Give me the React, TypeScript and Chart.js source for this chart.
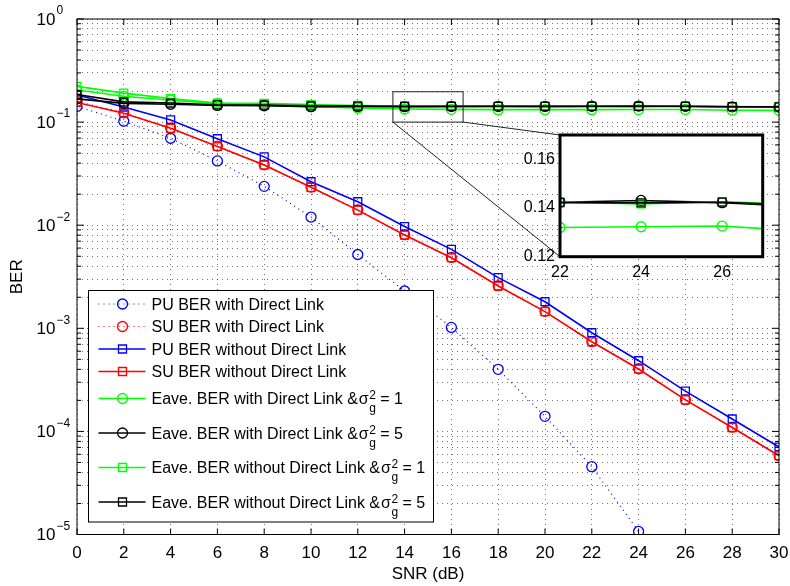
import React, { useEffect, useRef } from 'react';
import { Chart, registerables } from 'chart.js';

Chart.register(...registerables);

const FONT = '"Liberation Sans", Arial, Helvetica, sans-serif';

// ---------- data ----------
const SNR = [0, 2, 4, 6, 8, 10, 12, 14, 16, 18, 20, 22, 24, 26, 28, 30];
const PU_DL = [0.142, 0.102, 0.0697, 0.042, 0.0238, 0.012, 0.0052, 0.0023, 0.00102, 0.0004, 0.00014, 4.55e-5, 1.07e-5];
const SU_DL = [0.159, 0.123, 0.088, 0.0585, 0.0385, 0.0234, 0.0141, 0.0081, 0.00487, 0.00259, 0.00146, 0.000745, 0.000405, 0.000203, 0.00011, 5.85e-5];
const PU_NODL = [0.183, 0.14, 0.105, 0.069, 0.046, 0.0264, 0.0169, 0.0097, 0.00583, 0.0031, 0.00181, 0.000906, 0.000485, 0.000246, 0.000132, 7.06e-5];
const SU_NODL = [0.155, 0.122, 0.087, 0.058, 0.0384, 0.0233, 0.014, 0.00803, 0.00484, 0.00257, 0.00145, 0.00074, 0.000403, 0.000202, 0.000109, 5.8e-5];
const EAVE_DL_1 = [0.205, 0.178, 0.163, 0.152, 0.146, 0.141, 0.137, 0.134, 0.133, 0.132, 0.132, 0.132, 0.1323, 0.1326, 0.1305, 0.13];
const EAVE_DL_5 = [0.168, 0.152, 0.149, 0.145, 0.144, 0.141, 0.142, 0.141, 0.142, 0.142, 0.142, 0.1424, 0.1431, 0.1422, 0.1405, 0.14];
const EAVE_NODL_1 = [0.222, 0.191, 0.169, 0.153, 0.152, 0.148, 0.145, 0.143, 0.142, 0.142, 0.142, 0.1425, 0.1417, 0.1426, 0.1414, 0.141];
const EAVE_NODL_5 = [0.185, 0.157, 0.153, 0.147, 0.146, 0.144, 0.143, 0.142, 0.142, 0.1425, 0.142, 0.1422, 0.1421, 0.1424, 0.141, 0.1405];

const X_TICKS = [0, 2, 4, 6, 8, 10, 12, 14, 16, 18, 20, 22, 24, 26, 28, 30];
const Y_DECADES = [0, -1, -2, -3, -4, -5];
const INSET_X_TICKS = [22, 24, 26];
const INSET_Y_TICKS = [0.12, 0.14, 0.16];
const INSET_X_RANGE = [22, 27];
const INSET_Y_RANGE = [0.12, 0.17];
const ZOOM_BOX_X = [13.5, 16.5];
const ZOOM_BOX_Y = [0.1, 0.197];

const X_TITLE = 'SNR (dB)';
const Y_TITLE = 'BER';

type Series = {
  label: string;
  sigma?: string; // suffix after sigma
  data: number[];
  color: string;
  marker: 'circle' | 'rect';
  dotted: boolean;
};

const SERIES: Series[] = [
  { label: 'PU BER with Direct Link', data: PU_DL, color: '#0000ff', marker: 'circle', dotted: true },
  { label: 'SU BER with Direct Link', data: SU_DL, color: '#ff0000', marker: 'circle', dotted: true },
  { label: 'PU BER without Direct Link', data: PU_NODL, color: '#0000ff', marker: 'rect', dotted: false },
  { label: 'SU BER without Direct Link', data: SU_NODL, color: '#ff0000', marker: 'rect', dotted: false },
  { label: 'Eave. BER with Direct Link &', sigma: ' = 1', data: EAVE_DL_1, color: '#00ff00', marker: 'circle', dotted: false },
  { label: 'Eave. BER with Direct Link &', sigma: ' = 5', data: EAVE_DL_5, color: '#000000', marker: 'circle', dotted: false },
  { label: 'Eave. BER without Direct Link &', sigma: ' = 1', data: EAVE_NODL_1, color: '#00ff00', marker: 'rect', dotted: false },
  { label: 'Eave. BER without Direct Link &', sigma: ' = 5', data: EAVE_NODL_5, color: '#000000', marker: 'rect', dotted: false },
];

// ---------- layout (not data) ----------
const W = 790;
const H = 586;
const INSET_POS = { left: 515, top: 120, width: 260, height: 165 };
const GRID_COLOR = 'rgba(0,0,0,0.55)';
const GRID_DASH = [1, 4];

function toDataset(s: Series, i: number, n: number) {
  return {
    label: s.label,
    data: s.data.map((y, k) => ({ x: SNR[k], y })),
    borderColor: s.color,
    backgroundColor: 'rgba(0,0,0,0)',
    borderWidth: s.dotted ? 1.2 : 1.6,
    borderDash: s.dotted ? [1, 4] : [],
    pointStyle: s.marker,
    pointRadius: s.marker === 'rect' ? 5.6 : 5,
    pointBorderWidth: 1.3,
    pointBorderColor: s.color,
    pointBackgroundColor: 'rgba(0,0,0,0)',
    tension: 0,
    order: n - i,
  };
}

function drawMarker(ctx: CanvasRenderingContext2D, marker: string, x: number, y: number) {
  ctx.beginPath();
  if (marker === 'circle') {
    ctx.arc(x, y, 5, 0, Math.PI * 2);
  } else {
    ctx.rect(x - 4, y - 4, 8, 8);
  }
  ctx.stroke();
}

export default function App() {
  const mainRef = useRef<HTMLCanvasElement | null>(null);
  const insetRef = useRef<HTMLCanvasElement | null>(null);

  useEffect(() => {
    document.body.style.margin = '0';
    Chart.defaults.font.family = FONT;
    if (!mainRef.current || !insetRef.current) return;

    const insetSeries = SERIES.slice(4);

    const insetPlugin = {
      id: 'insetDecor',
      beforeDraw(chart: any) {
        const { ctx, chartArea: a } = chart;
        ctx.save();
        ctx.fillStyle = '#ffffff';
        ctx.fillRect(a.left, a.top, a.right - a.left, a.bottom - a.top);
        ctx.restore();
      },
      afterDraw(chart: any) {
        const { ctx, chartArea: a } = chart;
        ctx.save();
        ctx.strokeStyle = '#000';
        ctx.lineWidth = 3;
        ctx.strokeRect(a.left, a.top, a.right - a.left, a.bottom - a.top);
        ctx.restore();
      },
    };

    const noPad = (s: any) => {
      s.paddingLeft = 0;
      s.paddingRight = 0;
      s.paddingTop = 0;
      s.paddingBottom = 0;
    };

    const inset = new Chart(insetRef.current, {
      type: 'line',
      data: { datasets: insetSeries.map((s, i) => toDataset(s, i, insetSeries.length)) as any },
      options: {
        animation: false,
        responsive: false,
        maintainAspectRatio: false,
        layout: { padding: { top: 15, right: 12.3, left: 0, bottom: 0 } },
        scales: {
          x: {
            type: 'linear',
            min: INSET_X_RANGE[0],
            max: INSET_X_RANGE[1],
            afterBuildTicks: (s: any) => { s.ticks = INSET_X_TICKS.map((v) => ({ value: v })); },
            afterFit: (s: any) => { s.height = 28.3; noPad(s); },
            grid: { display: false, drawTicks: false },
            border: { display: false },
            ticks: { color: '#000', font: { size: 16, family: FONT }, padding: 6, maxRotation: 0, autoSkip: false },
          },
          y: {
            type: 'linear',
            min: INSET_Y_RANGE[0],
            max: INSET_Y_RANGE[1],
            afterBuildTicks: (s: any) => { s.ticks = INSET_Y_TICKS.map((v) => ({ value: v })); },
            afterFit: (s: any) => { s.width = 45; noPad(s); },
            grid: { display: false, drawTicks: false },
            border: { display: false },
            ticks: {
              color: '#000',
              font: { size: 16, family: FONT },
              padding: 5,
              autoSkip: false,
              callback: (v: any) => Number(v).toFixed(2),
            },
          },
        },
        plugins: { legend: { display: false }, tooltip: { enabled: false } },
      } as any,
      plugins: [insetPlugin],
    });

    const mainPlugin = {
      id: 'mainDecor',
      afterDraw(chart: any) {
        const { ctx, chartArea: a, scales } = chart;
        const xs = scales.x;
        const ys = scales.y;
        ctx.save();
        ctx.setLineDash([]);
        ctx.strokeStyle = '#000';
        ctx.lineWidth = 1;

        const seg = (x1: number, y1: number, x2: number, y2: number) => {
          ctx.beginPath();
          ctx.moveTo(x1, y1);
          ctx.lineTo(x2, y2);
          ctx.stroke();
        };

        // box
        ctx.strokeRect(a.left, a.top, a.right - a.left, a.bottom - a.top);

        // inward ticks on x
        X_TICKS.forEach((v) => {
          const px = xs.getPixelForValue(v);
          seg(px, a.bottom, px, a.bottom - 6);
          seg(px, a.top, px, a.top + 6);
        });
        // inward ticks on y (major + minor)
        Y_DECADES.forEach((e) => {
          for (let k = 1; k <= 9; k++) {
            if (e === 0 && k > 1) continue;
            const v = k * Math.pow(10, e);
            const py = ys.getPixelForValue(v);
            const len = k === 1 ? 7 : 4;
            seg(a.left, py, a.left + len, py);
            seg(a.right, py, a.right - len, py);
          }
        });

        // y tick labels with superscripts
        ctx.fillStyle = '#000';
        Y_DECADES.forEach((e) => {
          const py = ys.getPixelForValue(Math.pow(10, e));
          ctx.font = `17px ${FONT}`;
          ctx.textAlign = 'right';
          ctx.textBaseline = 'middle';
          ctx.fillText('10', a.left - 21.5, py + 1);
          ctx.font = `12px ${FONT}`;
          ctx.textAlign = 'left';
          ctx.fillText(e === 0 ? '0' : '\u2212' + String(-e), a.left - 20.5, py - 8);
        });

        // axis titles
        ctx.font = `17px ${FONT}`;
        ctx.textAlign = 'center';
        ctx.textBaseline = 'middle';
        ctx.fillText(X_TITLE, (a.left + a.right) / 2, a.bottom + 40);
        ctx.save();
        ctx.translate(17.5, (a.top + a.bottom) / 2);
        ctx.rotate(-Math.PI / 2);
        ctx.fillText(Y_TITLE, 0, 0);
        ctx.restore();

        // zoom box + connectors to inset
        const bx1 = xs.getPixelForValue(ZOOM_BOX_X[0]);
        const bx2 = xs.getPixelForValue(ZOOM_BOX_X[1]);
        const by1 = ys.getPixelForValue(ZOOM_BOX_Y[1]);
        const by2 = ys.getPixelForValue(ZOOM_BOX_Y[0]);
        ctx.strokeStyle = '#222';
        ctx.lineWidth = 1;
        ctx.strokeRect(bx1, by1, bx2 - bx1, by2 - by1);
        const ia = inset.chartArea;
        if (ia) {
          const il = INSET_POS.left + ia.left;
          const it = INSET_POS.top + ia.top;
          const ib = INSET_POS.top + ia.bottom;
          seg(bx1, by2, il, ib);
          seg(bx2, by2, il, it);
        }

        // legend
        const lx = 88.5;
        const lt = 290.5;
        const lw = 345;
        const lh = 231.5;
        ctx.fillStyle = '#fff';
        ctx.fillRect(lx, lt, lw, lh);
        ctx.strokeStyle = '#000';
        ctx.lineWidth = 1;
        ctx.strokeRect(lx, lt, lw, lh);

        let rowY = lt + 13.5;
        SERIES.forEach((s, i) => {
          if (i > 0) {
            if (s.sigma && SERIES[i - 1].sigma) rowY += 34.5;
            else if (s.sigma) rowY += 27;
            else rowY += 22.5;
          }
          // sample line
          ctx.strokeStyle = s.color;
          ctx.lineWidth = s.dotted ? 1.2 : 1.6;
          ctx.setLineDash(s.dotted ? [1, 4] : []);
          seg(lx + 10, rowY, lx + 57, rowY);
          ctx.setLineDash([]);
          ctx.lineWidth = 1.3;
          drawMarker(ctx, s.marker, lx + 34, rowY);
          // text
          ctx.fillStyle = '#000';
          ctx.textAlign = 'left';
          ctx.textBaseline = 'alphabetic';
          ctx.font = `16px ${FONT}`;
          const tx = lx + 63;
          const base = rowY + 5.5;
          ctx.fillText(s.label, tx, base);
          if (s.sigma) {
            let x = tx + ctx.measureText(s.label).width + 1;
            ctx.fillText('\u03c3', x, base);
            x += ctx.measureText('\u03c3').width;
            ctx.font = `12px ${FONT}`;
            ctx.fillText('2', x + 0.5, rowY + 0.5);
            ctx.fillText('g', x + 0.5, rowY + 13.5);
            const sw = Math.max(ctx.measureText('2').width, ctx.measureText('g').width);
            x += sw + 0.5;
            ctx.font = `16px ${FONT}`;
            ctx.fillText(s.sigma, x, base);
          }
        });

        ctx.restore();
      },
    };

    const yTicks: { value: number }[] = [];
    Y_DECADES.forEach((e) => {
      yTicks.push({ value: Math.pow(10, e) });
      if (e < 0) for (let k = 2; k <= 9; k++) yTicks.push({ value: k * Math.pow(10, e) });
    });

    const main = new Chart(mainRef.current, {
      type: 'line',
      data: { datasets: SERIES.map((s, i) => toDataset(s, i, SERIES.length)) as any },
      options: {
        animation: false,
        responsive: false,
        maintainAspectRatio: false,
        layout: { padding: { top: 19, right: 11, left: 0, bottom: 0 } },
        scales: {
          x: {
            type: 'linear',
            min: 0,
            max: 30,
            afterBuildTicks: (s: any) => { s.ticks = X_TICKS.map((v) => ({ value: v })); },
            afterFit: (s: any) => { s.height = 51.5; noPad(s); },
            grid: { color: GRID_COLOR, lineWidth: 1, drawTicks: false },
            border: { display: false, dash: GRID_DASH },
            ticks: { color: '#000', font: { size: 17, family: FONT }, padding: 9, maxRotation: 0, autoSkip: false },
          },
          y: {
            type: 'logarithmic',
            min: 1e-5,
            max: 1,
            afterBuildTicks: (s: any) => { s.ticks = yTicks.slice(); },
            afterFit: (s: any) => { s.width = 77; noPad(s); },
            grid: { color: GRID_COLOR, lineWidth: 1, drawTicks: false },
            border: { display: false, dash: GRID_DASH },
            ticks: { autoSkip: false, callback: () => '' },
          },
        },
        plugins: { legend: { display: false }, tooltip: { enabled: false } },
      } as any,
      plugins: [mainPlugin],
    });

    return () => {
      main.destroy();
      inset.destroy();
    };
  }, []);

  return (
    <div style={{ position: 'relative', width: W, height: H, background: '#fff' }}>
      <canvas ref={mainRef} width={W} height={H} style={{ position: 'absolute', left: 0, top: 0, width: W, height: H }} />
      <canvas
        ref={insetRef}
        width={INSET_POS.width}
        height={INSET_POS.height}
        style={{ position: 'absolute', left: INSET_POS.left, top: INSET_POS.top, width: INSET_POS.width, height: INSET_POS.height }}
      />
    </div>
  );
}
